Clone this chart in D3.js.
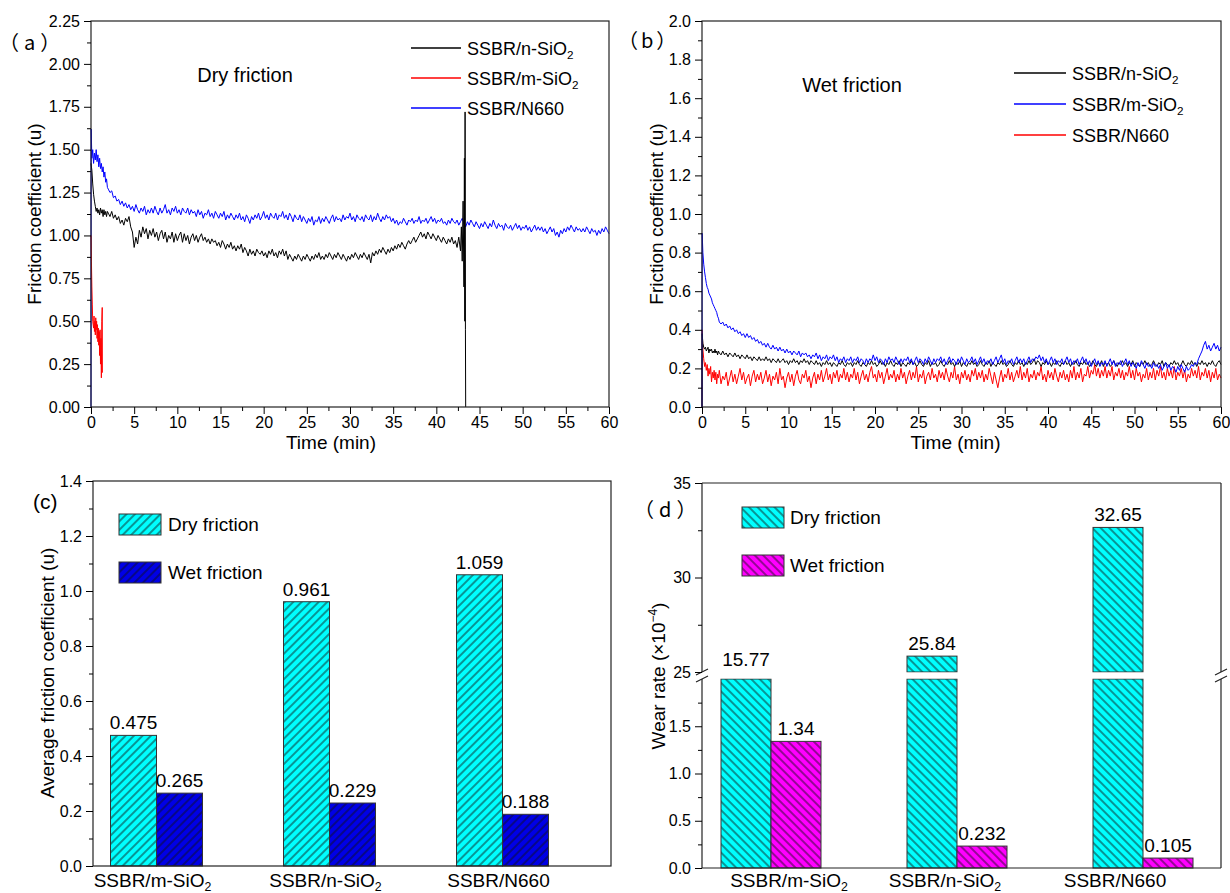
<!DOCTYPE html>
<html>
<head>
<meta charset="utf-8">
<script src="https://cdn.jsdelivr.net/npm/d3@7"></script>
<style>
  body { margin: 0; background: #fff; }
  svg text { font-family: "Liberation Sans", Arial, sans-serif; fill: #000; }
</style>
</head>
<body>
<svg id="chart" width="1230" height="893"></svg>
<script>
// ---- data ----
// traces: a hand-read start ([min, u] pairs) then readings every 0.2 min from 2.0 min on

// (a) dry friction
const dryNSiO2Head = [[0,1.42],[0.1,1.38],[0.2,1.30],[0.3,1.24],[0.4,1.20],[0.5,1.17],[0.6,1.14],[0.7,1.16],[0.8,1.13],[0.9,1.15],[1.0,1.12],[1.1,1.16],[1.2,1.13],[1.3,1.15],[1.4,1.11],[1.5,1.15],[1.6,1.12],[1.7,1.14],[1.8,1.11],[1.9,1.14]];
const dryNSiO2 = [
  1.13,1.11,1.14,1.10,1.12,1.09,1.11,1.07,1.09,1.06,1.10,1.08,1.11,1.05,1.02,0.93,0.99,0.95,1.03,0.99,1.05,1.01,1.04,0.98,1.03,
  1.00,1.04,0.99,1.02,0.97,1.01,1.03,0.98,1.02,0.96,1.00,0.98,1.02,0.96,1.01,0.97,1.00,1.02,0.96,1.01,0.97,1.00,0.95,0.99,1.01,
  0.97,1.00,0.96,0.99,1.01,0.97,0.99,0.96,0.98,0.95,0.98,0.96,0.97,0.94,0.96,0.93,0.97,0.95,0.92,0.95,0.93,0.96,0.92,0.94,0.91,
  0.94,0.92,0.95,0.90,0.93,0.91,0.88,0.92,0.89,0.91,0.88,0.92,0.90,0.89,0.91,0.88,0.90,0.87,0.91,0.89,0.92,0.88,0.90,0.87,0.91,
  0.89,0.92,0.88,0.91,0.86,0.89,0.87,0.85,0.88,0.86,0.89,0.87,0.85,0.88,0.86,0.89,0.87,0.85,0.88,0.86,0.89,0.87,0.90,0.86,0.88,
  0.86,0.89,0.87,0.90,0.88,0.86,0.89,0.87,0.90,0.88,0.86,0.89,0.87,0.85,0.88,0.86,0.89,0.87,0.90,0.88,0.86,0.89,0.87,0.90,0.88,
  0.86,0.89,0.84,0.90,0.88,0.91,0.89,0.92,0.90,0.93,0.91,0.89,0.92,0.90,0.93,0.91,0.94,0.92,0.95,0.93,0.96,0.94,0.92,0.95,0.97,
  0.95,0.97,0.99,0.96,0.98,1.00,1.02,0.99,1.01,0.98,1.02,1.00,0.98,1.01,0.99,0.97,1.00,0.98,0.96,0.99,0.97,0.95,0.98,0.96,0.99,
  0.95,0.97,0.93,0.99,0.91];
const dryNSiO2Tail = [[42.9,1.05],[43.0,0.85],[43.1,1.20],[43.2,0.70],[43.25,1.45],[43.3,0.50],[43.33,1.72],[43.37,0.45],[43.4,0.0]];

const dryMSiO2 = [[0,1.0],[0.05,0.85],[0.1,0.70],[0.15,0.60],[0.2,0.50],[0.3,0.46],[0.35,0.53],[0.4,0.44],[0.45,0.50],[0.5,0.42],[0.55,0.52],[0.6,0.45],[0.65,0.50],[0.7,0.40],[0.75,0.48],[0.8,0.38],[0.85,0.46],[0.9,0.36],[0.95,0.44],[1.0,0.30],[1.05,0.45],[1.1,0.25],[1.15,0.40],[1.2,0.17],[1.25,0.50],[1.3,0.58],[1.32,0.20]];

const dryN660Head = [[0,0],[0.02,1.62],[0.1,1.45],[0.2,1.50],[0.3,1.42],[0.4,1.48],[0.5,1.44],[0.6,1.50],[0.7,1.43],[0.8,1.47],[0.9,1.40],[1.0,1.45],[1.1,1.39],[1.2,1.42],[1.3,1.37],[1.4,1.40],[1.5,1.34],[1.6,1.37],[1.7,1.31],[1.8,1.33],[1.9,1.28]];
const dryN660 = [
  1.27,1.25,1.26,1.22,1.23,1.20,1.21,1.18,1.20,1.17,1.19,1.16,1.18,1.15,1.17,1.14,1.18,1.15,1.13,1.16,1.14,1.17,1.12,1.15,1.13,
  1.16,1.13,1.17,1.14,1.12,1.16,1.13,1.15,1.18,1.13,1.15,1.12,1.16,1.14,1.17,1.13,1.15,1.12,1.16,1.14,1.13,1.16,1.12,1.15,1.13,
  1.14,1.11,1.15,1.12,1.14,1.10,1.13,1.12,1.15,1.11,1.13,1.10,1.14,1.12,1.10,1.13,1.11,1.14,1.09,1.12,1.10,1.13,1.11,1.09,1.12,
  1.10,1.13,1.09,1.11,1.08,1.12,1.10,1.07,1.11,1.09,1.12,1.10,1.13,1.09,1.11,1.14,1.10,1.12,1.09,1.13,1.11,1.10,1.13,1.09,1.12,
  1.11,1.14,1.10,1.12,1.09,1.13,1.11,1.08,1.12,1.10,1.09,1.12,1.08,1.11,1.09,1.07,1.10,1.08,1.11,1.06,1.09,1.08,1.11,1.07,1.10,
  1.08,1.11,1.09,1.07,1.10,1.12,1.08,1.11,1.09,1.10,1.08,1.12,1.09,1.11,1.10,1.13,1.09,1.11,1.08,1.12,1.10,1.09,1.11,1.08,1.12,
  1.10,1.09,1.12,1.08,1.11,1.09,1.13,1.10,1.08,1.11,1.09,1.12,1.10,1.11,1.08,1.10,1.07,1.09,1.06,1.08,1.07,1.10,1.08,1.06,1.09,
  1.08,1.10,1.07,1.09,1.08,1.11,1.07,1.09,1.08,1.10,1.07,1.09,1.11,1.08,1.10,1.07,1.09,1.08,1.10,1.07,1.08,1.06,1.09,1.07,1.10,
  1.08,1.07,1.09,1.06,1.08,1.10,1.07,1.05,1.08,1.06,1.09,1.07,1.05,1.08,1.06,1.04,1.07,1.05,1.08,1.06,1.04,1.07,1.05,1.09,1.06,
  1.04,1.07,1.05,1.06,1.03,1.07,1.05,1.04,1.06,1.03,1.05,1.07,1.04,1.06,1.03,1.05,1.04,1.06,1.03,1.05,1.02,1.04,1.06,1.03,1.05,
  1.03,1.05,1.02,1.04,1.01,1.03,1.05,1.02,1.04,1.00,1.02,0.99,1.03,1.01,1.04,1.02,1.05,1.03,1.06,1.04,1.02,1.05,1.03,1.04,1.02,
  1.04,1.02,1.05,1.03,1.01,1.04,1.02,1.03,1.00,1.03,1.01,1.04,1.02,1.05,1.03,1.01];

// (b) wet friction
const wetNSiO2Head = [[0,0],[0.02,0.38],[0.1,0.33],[0.2,0.31],[0.3,0.30],[0.4,0.31],[0.5,0.29],[0.6,0.30],[0.7,0.31],[0.8,0.28],[0.9,0.30],[1.0,0.29],[1.1,0.30],[1.2,0.28],[1.3,0.29],[1.4,0.28],[1.5,0.30],[1.6,0.28],[1.7,0.29],[1.8,0.27],[1.9,0.29]];
const wetNSiO2 = [
  0.28,0.27,0.29,0.27,0.28,0.26,0.28,0.27,0.26,0.28,0.26,0.27,0.25,0.27,0.26,0.25,0.27,0.25,0.26,0.24,0.26,0.25,0.24,0.26,0.24,
  0.25,0.24,0.26,0.24,0.25,0.23,0.25,0.24,0.23,0.25,0.23,0.24,0.25,0.23,0.24,0.22,0.24,0.23,0.25,0.23,0.24,0.22,0.24,0.23,0.25,
  0.23,0.24,0.22,0.24,0.23,0.22,0.24,0.22,0.23,0.21,0.23,0.22,0.24,0.22,0.23,0.21,0.23,0.22,0.21,0.23,0.22,0.24,0.22,0.21,0.23,
  0.22,0.23,0.21,0.23,0.22,0.24,0.22,0.21,0.23,0.22,0.21,0.23,0.22,0.24,0.22,0.23,0.21,0.22,0.24,0.22,0.23,0.21,0.23,0.22,0.24,
  0.22,0.21,0.23,0.22,0.24,0.21,0.23,0.22,0.21,0.23,0.22,0.24,0.22,0.23,0.21,0.22,0.24,0.22,0.21,0.23,0.22,0.24,0.21,0.23,0.22,
  0.23,0.21,0.22,0.24,0.22,0.21,0.23,0.22,0.24,0.22,0.23,0.21,0.23,0.22,0.24,0.21,0.23,0.22,0.21,0.23,0.22,0.24,0.22,0.23,0.21,
  0.22,0.24,0.22,0.21,0.23,0.22,0.24,0.21,0.23,0.22,0.21,0.23,0.22,0.24,0.22,0.23,0.21,0.22,0.24,0.22,0.21,0.23,0.22,0.24,0.22,
  0.23,0.21,0.23,0.22,0.24,0.22,0.23,0.25,0.22,0.24,0.23,0.21,0.23,0.22,0.24,0.22,0.23,0.21,0.23,0.22,0.24,0.22,0.21,0.23,0.22,
  0.24,0.22,0.23,0.21,0.23,0.22,0.24,0.22,0.21,0.23,0.22,0.24,0.22,0.23,0.21,0.22,0.24,0.22,0.21,0.23,0.22,0.24,0.21,0.23,0.22,
  0.23,0.21,0.22,0.24,0.22,0.21,0.23,0.22,0.24,0.22,0.23,0.21,0.23,0.22,0.24,0.21,0.23,0.22,0.21,0.23,0.22,0.24,0.22,0.23,0.21,
  0.22,0.24,0.22,0.21,0.23,0.22,0.24,0.21,0.23,0.22,0.21,0.23,0.22,0.24,0.22,0.23,0.21,0.22,0.24,0.22,0.21,0.23,0.22,0.24,0.22,
  0.23,0.21,0.23,0.22,0.24,0.22,0.23,0.21,0.23,0.22,0.24,0.22,0.21,0.23,0.24,0.22];

const wetMSiO2Head = [[0,0],[0.02,0.90],[0.1,0.80],[0.2,0.74],[0.3,0.70],[0.4,0.67],[0.5,0.64],[0.6,0.62],[0.7,0.61],[0.8,0.59],[0.9,0.58],[1.0,0.57],[1.1,0.56],[1.2,0.54],[1.3,0.53],[1.4,0.52],[1.5,0.51],[1.6,0.50],[1.7,0.49],[1.8,0.47],[1.9,0.46]];
const wetMSiO2 = [
  0.44,0.43,0.44,0.42,0.43,0.41,0.42,0.40,0.41,0.39,0.40,0.38,0.39,0.37,0.38,0.36,0.38,0.36,0.37,0.35,0.36,0.34,0.35,0.33,0.34,
  0.32,0.33,0.31,0.33,0.31,0.30,0.32,0.30,0.31,0.29,0.31,0.29,0.30,0.28,0.30,0.28,0.29,0.27,0.29,0.28,0.27,0.29,0.26,0.28,0.27,
  0.28,0.26,0.27,0.25,0.27,0.26,0.28,0.25,0.27,0.24,0.26,0.25,0.27,0.24,0.26,0.25,0.27,0.24,0.26,0.23,0.25,0.24,0.26,0.23,0.25,
  0.24,0.26,0.23,0.25,0.24,0.26,0.23,0.25,0.24,0.22,0.25,0.23,0.25,0.24,0.27,0.24,0.26,0.23,0.25,0.24,0.22,0.25,0.23,0.26,0.24,
  0.25,0.23,0.26,0.24,0.22,0.25,0.23,0.25,0.24,0.26,0.23,0.25,0.22,0.24,0.26,0.23,0.25,0.24,0.22,0.25,0.23,0.26,0.24,0.22,0.25,
  0.23,0.25,0.24,0.26,0.23,0.25,0.22,0.24,0.26,0.23,0.25,0.24,0.22,0.25,0.23,0.26,0.24,0.22,0.25,0.23,0.24,0.26,0.23,0.25,0.22,
  0.24,0.26,0.23,0.25,0.22,0.24,0.23,0.25,0.22,0.24,0.26,0.23,0.25,0.27,0.23,0.25,0.22,0.24,0.23,0.25,0.22,0.24,0.26,0.23,0.25,
  0.23,0.25,0.22,0.24,0.26,0.23,0.25,0.24,0.26,0.25,0.27,0.24,0.26,0.23,0.25,0.22,0.24,0.26,0.23,0.25,0.22,0.24,0.23,0.25,0.22,
  0.24,0.26,0.23,0.25,0.22,0.24,0.23,0.25,0.22,0.24,0.26,0.23,0.25,0.22,0.24,0.21,0.23,0.25,0.22,0.24,0.21,0.23,0.22,0.24,0.21,
  0.23,0.25,0.22,0.24,0.21,0.23,0.22,0.24,0.21,0.23,0.25,0.22,0.24,0.21,0.23,0.22,0.20,0.23,0.21,0.24,0.22,0.20,0.23,0.21,0.22,
  0.20,0.23,0.21,0.22,0.20,0.22,0.19,0.21,0.23,0.20,0.22,0.19,0.21,0.20,0.18,0.21,0.19,0.22,0.20,0.18,0.21,0.19,0.20,0.22,0.21,
  0.23,0.22,0.25,0.27,0.29,0.32,0.34,0.30,0.32,0.29,0.31,0.33,0.30,0.32,0.29,0.31];

const wetN660Head = [[0,0],[0.02,0.40],[0.1,0.30],[0.2,0.25],[0.3,0.21],[0.4,0.23],[0.5,0.19],[0.6,0.22],[0.7,0.16],[0.8,0.20],[0.9,0.17],[1.0,0.21],[1.1,0.13],[1.2,0.18],[1.3,0.15],[1.4,0.19],[1.5,0.14],[1.6,0.18],[1.7,0.12],[1.8,0.17],[1.9,0.15]];
const wetN660 = [
  0.19,0.12,0.16,0.14,0.18,0.11,0.15,0.19,0.13,0.17,0.12,0.16,0.20,0.14,0.18,0.12,0.15,0.17,0.11,0.16,0.19,0.13,0.17,0.14,0.18,
  0.12,0.15,0.19,0.13,0.17,0.11,0.16,0.14,0.18,0.12,0.20,0.14,0.16,0.10,0.15,0.18,0.13,0.17,0.11,0.16,0.19,0.14,0.12,0.17,0.15,
  0.19,0.13,0.16,0.10,0.15,0.18,0.12,0.17,0.14,0.19,0.13,0.16,0.20,0.14,0.17,0.12,0.18,0.15,0.19,0.13,0.17,0.15,0.20,0.14,0.18,
  0.13,0.17,0.15,0.20,0.14,0.18,0.12,0.16,0.19,0.14,0.17,0.13,0.18,0.21,0.15,0.17,0.13,0.19,0.15,0.18,0.12,0.16,0.20,0.14,0.17,
  0.15,0.19,0.13,0.17,0.14,0.20,0.15,0.18,0.12,0.16,0.19,0.14,0.18,0.15,0.21,0.13,0.17,0.15,0.19,0.12,0.16,0.18,0.14,0.20,0.15,
  0.17,0.13,0.19,0.15,0.18,0.14,0.20,0.16,0.13,0.18,0.15,0.21,0.14,0.17,0.12,0.18,0.15,0.19,0.14,0.17,0.13,0.19,0.16,0.20,0.14,
  0.18,0.15,0.19,0.13,0.17,0.14,0.20,0.16,0.12,0.18,0.14,0.10,0.15,0.19,0.13,0.17,0.15,0.20,0.14,0.18,0.13,0.16,0.19,0.15,0.21,
  0.14,0.18,0.15,0.20,0.13,0.17,0.15,0.19,0.14,0.18,0.16,0.21,0.14,0.17,0.13,0.19,0.15,0.18,0.14,0.20,0.16,0.13,0.18,0.15,0.19,
  0.14,0.17,0.13,0.19,0.15,0.21,0.14,0.18,0.15,0.20,0.13,0.17,0.16,0.21,0.15,0.19,0.17,0.22,0.16,0.20,0.15,0.19,0.16,0.21,0.15,
  0.19,0.16,0.21,0.14,0.18,0.16,0.20,0.15,0.19,0.14,0.18,0.16,0.21,0.15,0.19,0.14,0.20,0.16,0.18,0.13,0.17,0.15,0.20,0.14,0.18,
  0.15,0.20,0.14,0.19,0.16,0.21,0.15,0.18,0.14,0.20,0.16,0.19,0.15,0.21,0.14,0.18,0.16,0.20,0.15,0.19,0.13,0.17,0.15,0.20,0.16,
  0.19,0.15,0.21,0.14,0.18,0.16,0.20,0.15,0.19,0.13,0.18,0.15,0.20,0.14,0.17,0.15];

// (c) and (d) bars
const categories = ["SSBR/m-SiO2", "SSBR/n-SiO2", "SSBR/N660"];
const avgFrictionDry = [0.475, 0.961, 1.059];
const avgFrictionWet = [0.265, 0.229, 0.188];
const wearDry = [15.77, 25.84, 32.65];
const wearWet = [1.34, 0.232, 0.105];

// ticks
const timeTicks = [0, 5, 10, 15, 20, 25, 30, 35, 40, 45, 50, 55, 60];
const timeMinor = [2.5, 7.5, 12.5, 17.5, 22.5, 27.5, 32.5, 37.5, 42.5, 47.5, 52.5, 57.5];
const dryYTicks = [0, 0.25, 0.5, 0.75, 1.0, 1.25, 1.5, 1.75, 2.0, 2.25];
const wetYTicks = [0, 0.2, 0.4, 0.6, 0.8, 1.0, 1.2, 1.4, 1.6, 1.8, 2.0];
const avgYTicks = [0, 0.2, 0.4, 0.6, 0.8, 1.0, 1.2, 1.4];
const wearLowTicks = [0, 0.5, 1.0, 1.5];
const wearHighTicks = [25, 30, 35];

// join a hand-read head with readings taken every `step` minutes from `start`
function trace(head, start, step, values, tail) {
  const body = values.map((v, i) => [+(start + i * step).toFixed(2), v]);
  return head.concat(body, tail || []);
}

// ---- drawing ----
const svg = d3.select("#chart");
const defs = svg.append("defs");
const CYAN = "#00ffff", BLUE = "#0000e6", MAGENTA = "#ff00ff";

// hatch fills, angle 45 -> "/", -45 -> "\"
function hatch(id, fill, angle) {
  const p = defs.append("pattern").attr("id", id)
    .attr("patternUnits", "userSpaceOnUse")
    .attr("width", 6).attr("height", 6)
    .attr("patternTransform", `rotate(${angle})`);
  p.append("rect").attr("width", 6).attr("height", 6).attr("fill", fill);
  p.append("line").attr("x1", 3).attr("x2", 3).attr("y1", 0).attr("y2", 6)
    .attr("stroke", "#111").attr("stroke-width", 0.9);
}
hatch("cyanFwd", CYAN, 45);
hatch("blueFwd", BLUE, 45);
hatch("cyanBack", CYAN, -45);
hatch("magBack", MAGENTA, -45);

// text with the "2" of SiO2 set as subscript
function richText(sel, str, size) {
  const m = str.match(/^(.*SiO)2$/);
  if (m) {
    sel.append("tspan").text(m[1]);
    sel.append("tspan").attr("dy", 4).attr("font-size", size * 0.65).text("2");
  } else {
    sel.text(str);
  }
}

function styleAxis(g, size) {
  g.select(".domain").remove();
  g.selectAll("line").attr("stroke", "#000").attr("stroke-width", 1);
  g.selectAll("text").attr("font-size", size).attr("fill", "#000")
    .style("font-family", '"Liberation Sans", Arial, sans-serif');
}

function leftAxis(scale, x, major, minor, fmt) {
  if (minor.length) {
    svg.append("g").attr("transform", `translate(${x},0)`)
      .call(d3.axisLeft(scale).tickValues(minor).tickSize(4).tickFormat(""))
      .call(g => styleAxis(g, 16));
  }
  svg.append("g").attr("transform", `translate(${x},0)`)
    .call(d3.axisLeft(scale).tickValues(major).tickSize(7).tickPadding(4).tickFormat(fmt))
    .call(g => styleAxis(g, 16));
}

function frame(p) {
  svg.append("rect").attr("x", p.left).attr("y", p.top)
    .attr("width", p.right - p.left).attr("height", p.bottom - p.top)
    .attr("fill", "none").attr("stroke", "#222").attr("stroke-width", 1.2);
}

function yTitle(x, y, parts) {
  const t = svg.append("text").attr("transform", `translate(${x},${y}) rotate(-90)`)
    .attr("text-anchor", "middle").attr("font-size", 19);
  parts.forEach(p => {
    const s = t.append("tspan").text(p.t);
    if (p.sup) s.attr("dy", -8).attr("font-size", 12);
    if (p.after) s.attr("dy", 8);
  });
}

function label(x, y, str, size, anchor) {
  const t = svg.append("text").attr("x", x).attr("y", y)
    .attr("font-size", size).attr("text-anchor", anchor || "start");
  richText(t, str, size);
  return t;
}

function panelTag(x, y, str, spacing) {
  svg.append("text").attr("x", x).attr("y", y).attr("font-size", 20)
    .attr("letter-spacing", spacing)
    .style("font-family", '"Noto Sans CJK SC", sans-serif').text(str);
}

// ---- line panels (a) and (b) ----
function linePanel(p, yMax, yTicks, yMinor, yFmt, series, legendPos, note, tag, titleX, timeShift) {
  const x = d3.scaleLinear().domain([0, 60]).range([p.left, p.right]);
  const y = d3.scaleLinear().domain([0, yMax]).range([p.bottom, p.top]);
  const line = d3.line().x(d => x(d[0])).y(d => y(d[1]));

  series.forEach(s => {
    svg.append("path").datum(s.data).attr("d", line)
      .attr("fill", "none").attr("stroke", s.color).attr("stroke-width", 1)
      .attr("stroke-linejoin", "round");
  });

  frame(p);
  leftAxis(y, p.left, yTicks, yMinor, yFmt);
  svg.append("g").attr("transform", `translate(0,${p.bottom})`)
    .call(d3.axisBottom(x).tickValues(timeMinor).tickSize(4).tickFormat(""))
    .call(g => styleAxis(g, 16));
  svg.append("g").attr("transform", `translate(0,${p.bottom})`)
    .call(d3.axisBottom(x).tickValues(timeTicks).tickSize(7).tickPadding(3).tickFormat(d3.format("d")))
    .call(g => styleAxis(g, 16));

  svg.append("text").attr("x", (p.left + p.right) / 2 + timeShift).attr("y", p.bottom + 42)
    .attr("text-anchor", "middle").attr("font-size", 19).text("Time (min)");
  yTitle(titleX, (p.top + p.bottom) / 2, [{ t: "Friction coefficient (u)" }]);

  legendPos.order.forEach((i, k) => {
    const ly = legendPos.y + k * legendPos.gap;
    svg.append("line").attr("x1", legendPos.x).attr("x2", legendPos.x + legendPos.len)
      .attr("y1", ly).attr("y2", ly).attr("stroke", series[i].color).attr("stroke-width", 1.5);
    label(legendPos.x + legendPos.len + 6, ly + 6.5, series[i].name, 18);
  });

  label(note.x, note.y, note.text, 20, "middle");
  panelTag(tag.x, tag.y, tag.text, tag.spacing);
}

const panelA = { left: 91, right: 609, top: 21, bottom: 407 };
const panelB = { left: 702, right: 1221, top: 21, bottom: 407 };

linePanel(panelA, 2.25, dryYTicks,
  [0.125, 0.375, 0.625, 0.875, 1.125, 1.375, 1.625, 1.875, 2.125], d3.format(".2f"),
  [
    { name: "SSBR/N660", color: "#0000ff", data: trace(dryN660Head, 2.0, 0.2, dryN660) },
    { name: "SSBR/m-SiO2", color: "#ff0000", data: dryMSiO2 },
    { name: "SSBR/n-SiO2", color: "#000000", data: trace(dryNSiO2Head, 2.0, 0.2, dryNSiO2, dryNSiO2Tail) }
  ],
  { x: 411, y: 48, gap: 30, len: 50, order: [2, 1, 0] },
  { x: 245, y: 82, text: "Dry friction" },
  { x: -1, y: 50, text: "（a）", spacing: 5 }, 41, -19);

linePanel(panelB, 2.0, wetYTicks,
  [0.1, 0.3, 0.5, 0.7, 0.9, 1.1, 1.3, 1.5, 1.7, 1.9], d3.format(".1f"),
  [
    { name: "SSBR/N660", color: "#ff0000", data: trace(wetN660Head, 2.0, 0.2, wetN660) },
    { name: "SSBR/n-SiO2", color: "#000000", data: trace(wetNSiO2Head, 2.0, 0.2, wetNSiO2) },
    { name: "SSBR/m-SiO2", color: "#0000ff", data: trace(wetMSiO2Head, 2.0, 0.2, wetMSiO2) }
  ],
  { x: 1014, y: 73, gap: 31, len: 52, order: [1, 2, 0] },
  { x: 852, y: 92, text: "Wet friction" },
  { x: 618, y: 48, text: "（b）", spacing: 3 }, 663, -6);

// ---- bar panel (c) ----
const panelC = { left: 93, right: 611, top: 481, bottom: 866 };
{
  const p = panelC;
  const x = d3.scaleBand().domain(categories).range([70, 589]);
  const sub = d3.scaleBand().domain(["dry", "wet"]).range([-46, 46]);
  const y = d3.scaleLinear().domain([0, 1.4]).range([p.bottom, p.top]);
  const rows = categories.map((c, i) => [
    { c, k: "dry", v: avgFrictionDry[i], fill: "url(#cyanFwd)" },
    { c, k: "wet", v: avgFrictionWet[i], fill: "url(#blueFwd)" }
  ]).flat();

  svg.append("g").selectAll("rect").data(rows).join("rect")
    .attr("x", d => x(d.c) + x.bandwidth() / 2 + sub(d.k))
    .attr("width", sub.bandwidth())
    .attr("y", d => y(d.v)).attr("height", d => p.bottom - y(d.v))
    .attr("fill", d => d.fill).attr("stroke", "#333").attr("stroke-width", 1);

  svg.append("g").selectAll("text").data(rows).join("text")
    .attr("x", d => x(d.c) + x.bandwidth() / 2 + sub(d.k) + sub.bandwidth() / 2)
    .attr("y", d => y(d.v) - 6).attr("text-anchor", "middle").attr("font-size", 19)
    .text(d => String(d.v));

  frame(p);
  leftAxis(y, p.left, avgYTicks, [0.1, 0.3, 0.5, 0.7, 0.9, 1.1, 1.3], d3.format(".1f"));
  categories.forEach(c => label(x(c) + x.bandwidth() / 2 - 4, p.bottom + 21, c, 19, "middle"));
  yTitle(p.left - 39, 673, [{ t: "Average friction coefficient (u)" }]);

  [["Dry friction", "url(#cyanFwd)", 514], ["Wet friction", "url(#blueFwd)", 562]].forEach(l => {
    svg.append("rect").attr("x", 119).attr("y", l[2]).attr("width", 42).attr("height", 21)
      .attr("fill", l[1]).attr("stroke", "#333");
    label(168, l[2] + 17, l[0], 19);
  });
  label(33, 509, "(c)", 21);
}

// ---- bar panel (d) with broken axis ----
const panelD = { left: 702, right: 1221, top: 483, bottom: 868, gapTop: 672, gapBottom: 679 };
{
  const p = panelD;
  const x = d3.scaleBand().domain(categories).range([678, 1236]);
  const sub = d3.scaleBand().domain(["dry", "wet"]).range([-50, 50]);
  const yLow = d3.scaleLinear().domain([0, 2.0]).range([p.bottom, p.gapBottom]);
  const yHigh = d3.scaleLinear().domain([25, 35]).range([p.gapTop, p.top]);
  const rows = categories.map((c, i) => [
    { c, k: "dry", v: wearDry[i], fill: "url(#cyanBack)" },
    { c, k: "wet", v: wearWet[i], fill: "url(#magBack)" }
  ]).flat();
  const bx = d => x(d.c) + x.bandwidth() / 2 + sub(d.k);

  // lower segment, cut at the break
  svg.append("g").selectAll("rect").data(rows).join("rect")
    .attr("x", bx).attr("width", sub.bandwidth())
    .attr("y", d => yLow(Math.min(d.v, 2.0)))
    .attr("height", d => p.bottom - yLow(Math.min(d.v, 2.0)))
    .attr("fill", d => d.fill).attr("stroke", "#333").attr("stroke-width", 1);
  // upper segment
  const upper = rows.filter(d => d.v > 25);
  svg.append("g").selectAll("rect").data(upper).join("rect")
    .attr("x", bx).attr("width", sub.bandwidth())
    .attr("y", d => yHigh(d.v)).attr("height", d => p.gapTop - yHigh(d.v))
    .attr("fill", d => d.fill).attr("stroke", "#333").attr("stroke-width", 1);
  // white gap across the bars
  svg.append("rect").attr("x", p.left + 1).attr("y", p.gapTop + 0.5)
    .attr("width", p.right - p.left - 2).attr("height", p.gapBottom - p.gapTop - 1).attr("fill", "#fff");

  const topY = d => d.v > 25 ? yHigh(d.v) : (d.v > 2 ? p.gapTop : yLow(d.v));
  svg.append("g").selectAll("text").data(rows).join("text")
    .attr("x", d => bx(d) + sub.bandwidth() / 2)
    .attr("y", d => topY(d) - 6).attr("text-anchor", "middle").attr("font-size", 19)
    .text(d => String(d.v));

  // frame, broken on both vertical sides
  const fr = svg.append("g").attr("stroke", "#222").attr("stroke-width", 1.2).attr("fill", "none");
  fr.append("line").attr("x1", p.left).attr("x2", p.right).attr("y1", p.top).attr("y2", p.top);
  fr.append("line").attr("x1", p.left).attr("x2", p.right).attr("y1", p.bottom).attr("y2", p.bottom);
  [p.left, p.right].forEach(ax => {
    fr.append("line").attr("x1", ax).attr("x2", ax).attr("y1", p.top).attr("y2", p.gapTop);
    fr.append("line").attr("x1", ax).attr("x2", ax).attr("y1", p.gapBottom).attr("y2", p.bottom);
    fr.append("line").attr("x1", ax - 6).attr("x2", ax + 6).attr("y1", p.gapTop + 3).attr("y2", p.gapTop - 3);
    fr.append("line").attr("x1", ax - 6).attr("x2", ax + 6).attr("y1", p.gapBottom + 3).attr("y2", p.gapBottom - 3);
  });

  leftAxis(yLow, p.left, wearLowTicks, [0.25, 0.75, 1.25, 1.75], d3.format(".1f"));
  leftAxis(yHigh, p.left, wearHighTicks, [27.5, 32.5], d3.format("d"));

  const nudge = [18, -12, -28];   // category labels sit a little off the bar pairs
  categories.forEach((c, i) => label(x(c) + x.bandwidth() / 2 + nudge[i], p.bottom + 19, c, 19, "middle"));
  yTitle(p.left - 37, 676, [{ t: "Wear rate (×10" }, { t: "−4", sup: true }, { t: ")", after: true }]);

  [["Dry friction", "url(#cyanBack)", 507], ["Wet friction", "url(#magBack)", 555]].forEach(l => {
    svg.append("rect").attr("x", 742).attr("y", l[2]).attr("width", 42).attr("height", 21)
      .attr("fill", l[1]).attr("stroke", "#333");
    label(790, l[2] + 17, l[0], 19);
  });
  panelTag(634, 517, "（d）", 5);
}
</script>
</body>
</html>
